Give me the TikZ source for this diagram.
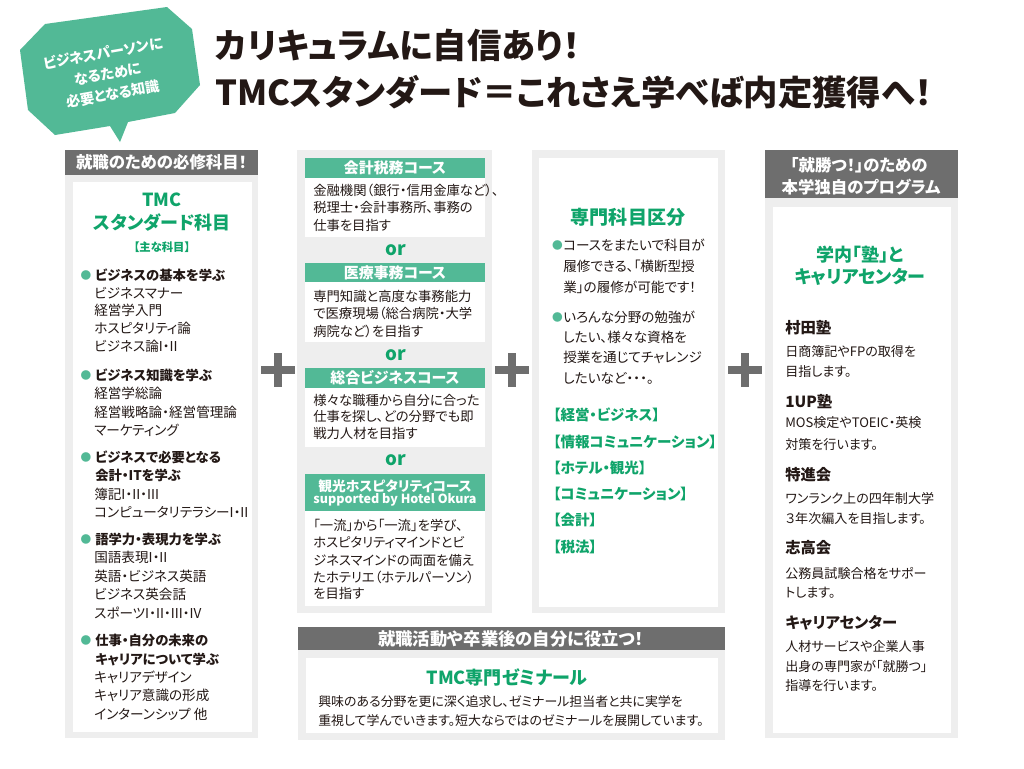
\documentclass[tikz,border=0pt]{standalone}
\usepackage{fontspec}
\setmainfont{Noto Sans CJK JP}[RawFeature=+palt]
\definecolor{TMCGreen}{HTML}{52B996}
\definecolor{TMCText}{HTML}{0FA46A}
\definecolor{TMCGray}{HTML}{6E6E6E}
\definecolor{TMCPanel}{HTML}{EEEEEE}
\definecolor{TMCInk}{HTML}{231815}

\begin{document}
\begin{tikzpicture}[
    x=0.75pt, y=-0.75pt,
    every node/.style={inner sep=0pt, text=TMCInk},
    line/.style={anchor=west, font=\fontsize{10.2}{12}\selectfont},
    head/.style={anchor=west, font=\bfseries\fontsize{10}{12}\selectfont},
    dot/.style={text=TMCGreen, font=\fontsize{8}{10}\selectfont},
    bar/.style={fill=TMCGray},
    barText/.style={text=white, font=\bfseries\fontsize{12.3}{15}\selectfont},
    panel/.style={fill=TMCPanel},
    sheet/.style={fill=white},
    course/.style={fill=TMCGreen},
    courseText/.style={text=white, font=\bfseries\fontsize{11.2}{13}\selectfont},
    greenTitle/.style={text=TMCText, font=\bfseries\fontsize{13.5}{16}\selectfont},
    orText/.style={text=TMCText, font=\bfseries\fontsize{14}{16}\selectfont},
    bubbleText/.style={rotate=10, text=white, font=\bfseries\fontsize{10.6}{13}\selectfont},
    plus/.style={TMCGray, line width=6pt}
 ]
\fill[white] (0,0) rectangle (1024,768);
\useasboundingbox (0,0) rectangle (1024,768);

% bubble and title
\fill[TMCGreen] (45,24) -- (167,7) -- (192,29) -- (200,85) -- (175,113) -- (128,122)
    -- (120,142) -- (110,126) -- (55,135) -- (28,110) -- (20,50) -- cycle;
\node[bubbleText] (bubbleA) at (103,53) {ビジネスパーソンに};
\node[bubbleText] (bubbleB) at (108,74) {なるために};
\node[bubbleText] (bubbleC) at (113,94) {必要となる知識};
\node[anchor=west, font=\bfseries\fontsize{25.8}{30}\selectfont] (titleA) at (215,45) {カリキュラムに自信あり！};
\node[anchor=west, font=\bfseries\fontsize{25.8}{30}\selectfont] (titleB) at (215,92) {TMCスタンダード＝これさえ学べば内定獲得へ！};

% column 1
\fill[bar] (65,150) rectangle (258,175);
\node[barText] (needHead) at (161.5,162.5) {就職のための必修科目！};
\fill[panel] (65,175) rectangle (258,738);
\fill[sheet] (73,182) rectangle (252,732);
\node[greenTitle] (stdA) at (162,200) {TMC};
\node[greenTitle] (stdB) at (162,223) {スタンダード科目};
\node[greenTitle, font=\bfseries\fontsize{8.5}{10}\selectfont] (stdC) at (162,247) {【主な科目】};
\foreach \y/\t in {275/ビジネスの基本を学ぶ, 375/ビジネス知識を学ぶ, 457/ビジネスで必要となる,
    539/語学力・表現力を学ぶ, 640/仕事・自分の未来の} {
    \node[dot] (dotA\y) at (86,\y) {●};
    \node[head] (headA\y) at (95,\y) {\t};
}
\foreach \y/\t in {475/会計・ITを学ぶ, 659/キャリアについて学ぶ}
    \node[head] (headA\y) at (95,\y) {\t};
\foreach \y/\t in {293/ビジネスマナー, 310/経営学入門, 328/ホスピタリティ論, 346/ビジネス論I・II,
    393/経営学総論, 412/経営戦略論・経営管理論, 430/マーケティング,
    494/簿記I・II・III, 512/コンピュータリテラシーI・II,
    557/国語表現I・II, 576/英語・ビジネス英語, 594/ビジネス英会話, 613/スポーツI・II・III・IV,
    677/キャリアデザイン, 695/キャリア意識の形成, 714/インターンシップ 他}
    \node[line] (subA\y) at (94,\y) {\t};

% column 2
\fill[panel] (297,150) rectangle (492,613);
\foreach \top/\mid/\bot in {158/178/237, 263/282/342, 368/388/447, 474/511/606} {
    \fill[course] (305,\top) rectangle (485,\mid);
    \fill[sheet] (305,\mid) rectangle (485,\bot);
}
\node[courseText] (courseA) at (395,168) {会計税務コース};
\node[courseText] (courseB) at (395,272.5) {医療事務コース};
\node[courseText] (courseC) at (395,378) {総合ビジネスコース};
\node[courseText, font=\bfseries\fontsize{10.3}{13}\selectfont] (courseD) at (395,486) {観光ホスピタリティコース};
\node[courseText, font=\bfseries\fontsize{9.4}{13}\selectfont] (courseE) at (395,500) {supported by Hotel Okura};
\foreach \y in {250,355,460}
    \node[orText] (or\y) at (396,\y) {or};
\foreach \y/\t in {190/金融機関（銀行・信用金庫など）、, 207/税理士・会計事務所、事務の, 225/仕事を目指す,
    296/専門知識と高度な事務能力, 313/で医療現場（総合病院・大学, 331/病院など）を目指す,
    400/様々な職種から自分に合った, 416/仕事を探し、どの分野でも即, 433/戦力人材を目指す,
    525/「一流」から「一流」を学び、, 543/ホスピタリティマインドとビ, 560/ジネスマインドの両面を備え,
    577/たホテリエ（ホテルパーソン）, 593/を目指す}
    \node[line, font=\fontsize{10}{12}\selectfont] (bodyB\y) at (313,\y) {\t};

% column 3
\fill[panel] (532,150) rectangle (725,613);
\fill[sheet] (539,158) rectangle (718,607);
\node[greenTitle, font=\bfseries\fontsize{14.3}{17}\selectfont] (majorTitle) at (628,217) {専門科目区分};
\foreach \y in {245,317}
    \node[dot] (dotC\y) at (557.5,\y) {●};
\foreach \y/\t in {245/コースをまたいで科目が, 266/履修できる、「横断型授, 287/業」の履修が可能です！,
    317/いろんな分野の勉強が, 337/したい、様々な資格を, 357/授業を通じてチャレンジ, 378/したいなど・・・。}
    \node[line] (bodyC\y) at (563,\y) {\t};
\foreach \y/\t in {415/【経営・ビジネス】, 442/【情報コミュニケーション】, 468/【ホテル・観光】,
    494/【コミュニケーション】, 520/【会計】, 547/【税法】}
    \node[greenTitle, anchor=west, font=\bfseries\fontsize{10.9}{14}\selectfont] (field\y) at (553,\y) {\t};

% column 4
\fill[bar] (765,150) rectangle (958,198);
\node[barText] (winHeadA) at (859,165) {「就勝つ！」のための};
\node[barText] (winHeadB) at (861,187) {本学独自のプログラム};
\fill[panel] (765,198) rectangle (958,738);
\fill[sheet] (773,207) rectangle (951,733);
\node[greenTitle] (juku) at (860,255) {学内「塾」と};
\node[greenTitle] (career) at (860,277) {キャリアセンター};
\foreach \y/\t in {328/村田塾, 402/1UP塾, 475/特進会, 548/志高会, 623/キャリアセンター}
    \node[head, font=\bfseries\fontsize{11.5}{14}\selectfont] (prog\y) at (785,\y) {\t};
\foreach \y/\t in {352/日商簿記やFPの取得を, 372/目指します。, 423/MOS検定やTOEIC・英検, 445/対策を行います。,
    498/ワンランク上の四年制大学, 518/３年次編入を目指します。, 573/公務員試験合格をサポー, 593/トします。,
    647/人材サービスや企業人事, 667/出身の専門家が「就勝つ」, 686/指導を行います。}
    \node[line, font=\fontsize{9.8}{12}\selectfont] (bodyD\y) at (785,\y) {\t};

% seminar
\fill[bar] (298,627) rectangle (725,650);
\node[barText, font=\bfseries\fontsize{13}{15}\selectfont] (semHead) at (511,638.5) {就職活動や卒業後の自分に役立つ！};
\fill[panel] (298,650) rectangle (725,740);
\fill[sheet] (306,658) rectangle (718,733);
\node[greenTitle, font=\bfseries\fontsize{13.5}{16}\selectfont] (semTitle) at (507,677) {TMC専門ゼミナール};
\node[line, font=\fontsize{9.7}{12}\selectfont] (semA) at (318,702) {興味のある分野を更に深く追求し、ゼミナール担当者と共に実学を};
\node[line, font=\fontsize{9.7}{12}\selectfont] (semB) at (318,721) {重視して学んでいきます。短大ならではのゼミナールを展開しています。};

% plus signs
\foreach \x in {278,512,745}
    \draw[plus] (\x-17,370) -- (\x+17,370) (\x,353) -- (\x,387);

\end{tikzpicture}
\end{document}
